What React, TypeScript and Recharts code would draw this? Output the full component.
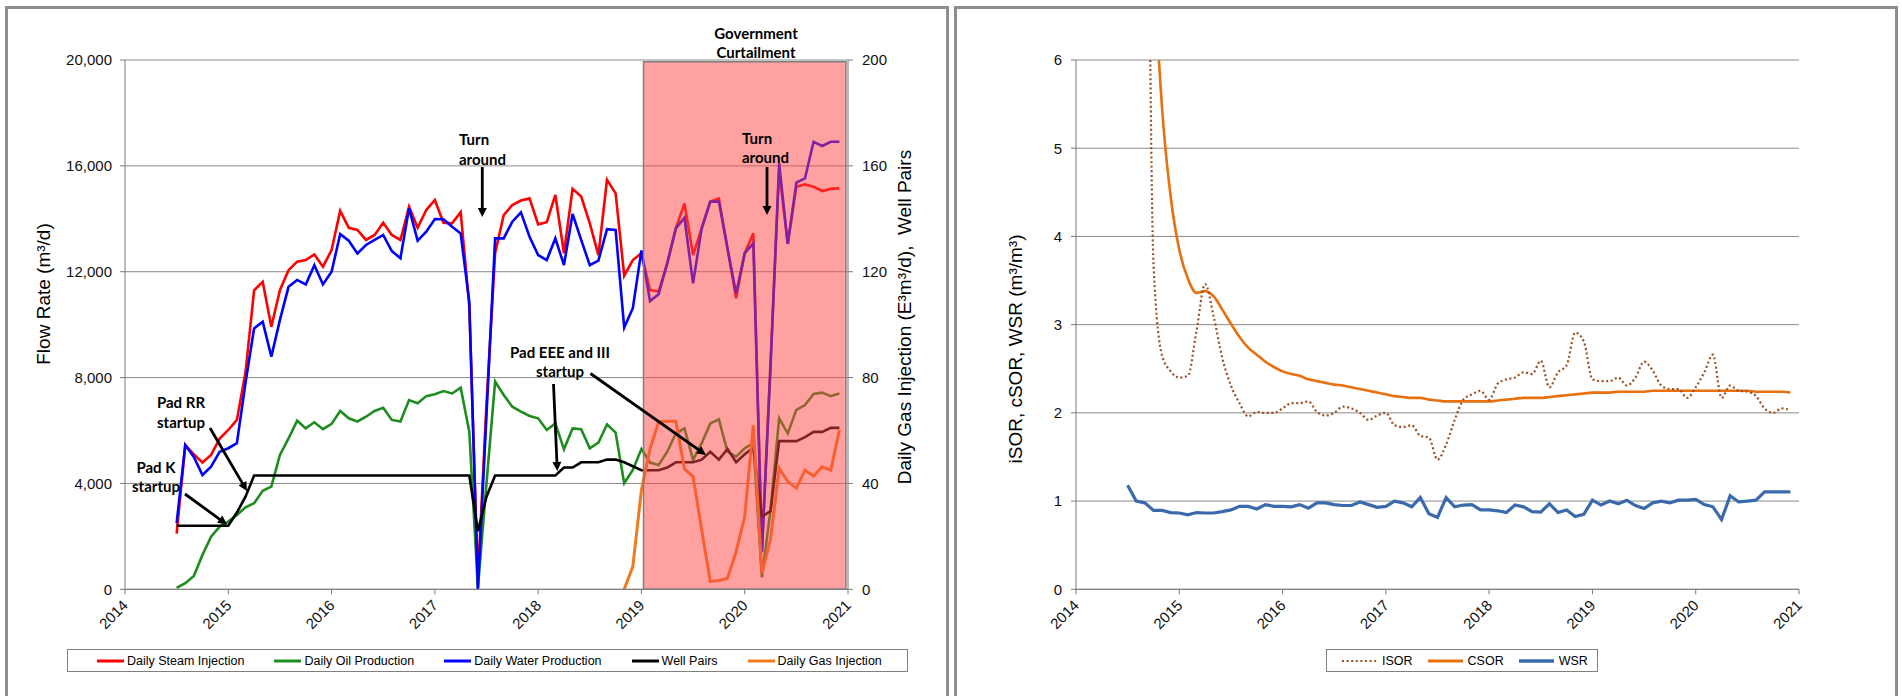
import React from 'react';
import { LineChart, Line, XAxis, YAxis, CartesianGrid, ReferenceArea, Legend } from 'recharts';

// ---------- categories (monthly, Jul 2014 .. Dec 2020) ----------
const START_YEAR = 2014;
const START_MONTH = 7;
const N_MONTHS = 78;
const MONTHS: number[] = Array.from({ length: N_MONTHS }, (_, i) => START_YEAR + (START_MONTH - 1 + i) / 12);

const YEAR_TICKS = [2014, 2015, 2016, 2017, 2018, 2019, 2020, 2021];
const FLOW_TICKS = [0, 4000, 8000, 12000, 16000, 20000];
const FLOW_MINOR_TICKS = Array.from({ length: 41 }, (_, i) => i * 500);
const GAS_TICKS = [0, 40, 80, 120, 160, 200];
const RATIO_TICKS = [0, 1, 2, 3, 4, 5, 6];
const RATIO_MINOR_TICKS = Array.from({ length: 31 }, (_, i) => i / 5);

// ---------- left chart series ----------
const STEAM = [2100, 5450, 5100, 4790, 5080, 5700, 6020, 6400, 8200, 11300, 11620, 9920, 11300, 12060, 12380, 12440, 12650, 12190, 12820, 14300, 13660, 13580, 13200, 13390, 13850, 13390, 13200, 14460, 13660, 14330, 14710, 13850, 13830, 14250, 10700, 400, 7000, 12700, 14140, 14520, 14690, 14770, 13790, 13870, 14900, 12700, 15130, 14840, 13830, 12630, 15470, 14960, 11850, 12440, 12700, 11310, 11250, 12320, 13640, 14580, 12630, 13640, 14650, 14770, 12880, 11000, 12700, 13450, 1500, 8600, 15800, 13050, 15210, 15300, 15210, 15050, 15130, 15150];
const OIL = [50, 230, 500, 1300, 1990, 2370, 2560, 2810, 3100, 3250, 3720, 3880, 5080, 5700, 6370, 6080, 6310, 6050, 6250, 6740, 6460, 6340, 6520, 6740, 6860, 6400, 6340, 7150, 7030, 7300, 7370, 7490, 7400, 7620, 5960, 50, 4000, 7850, 7340, 6900, 6710, 6550, 6460, 6020, 6270, 5290, 6080, 6050, 5330, 5540, 6230, 5920, 4010, 4510, 5300, 4790, 4700, 5200, 5890, 6080, 4890, 5520, 6270, 6420, 5200, 5010, 5330, 5520, 450, 3000, 6460, 5890, 6780, 6960, 7380, 7430, 7300, 7400];
const WATER = [2500, 5450, 5000, 4320, 4630, 5200, 5330, 5520, 7800, 9860, 10110, 8790, 10180, 11430, 11690, 11520, 12250, 11520, 12000, 13420, 13170, 12690, 13010, 13200, 13390, 12780, 12510, 14400, 13170, 13510, 13990, 13980, 13700, 13450, 10860, 0, 6600, 13260, 13260, 13890, 14240, 13320, 12630, 12440, 13260, 12250, 14180, 13200, 12250, 12420, 13610, 13580, 9890, 10620, 12800, 10890, 11150, 12320, 13640, 14040, 11560, 13640, 14650, 14650, 12880, 11180, 12700, 13070, 1400, 8400, 16100, 13050, 15370, 15530, 16910, 16750, 16910, 16910];
const WELL_PAIRS = [24, 24, 24, 24, 24, 24, 24, 29, 35, 43, 43, 43, 43, 43, 43, 43, 43, 43, 43, 43, 43, 43, 43, 43, 43, 43, 43, 43, 43, 43, 43, 43, 43, 43, 43, 22, 35, 43, 43, 43, 43, 43, 43, 43, 43, 46, 46, 48, 48, 48, 49, 49, 48, 46.5, 45, 45, 45, 46, 48, 48, 48, 49, 52, 49, 53, 48, 51, 53.5, 27.5, 29.5, 56, 56, 56, 57.5, 59.5, 59.5, 61, 61];
const GAS: (number | null)[] = [null, null, null, null, null, null, null, null, null, null, null, null, null, null, null, null, null, null, null, null, null, null, null, null, null, null, null, null, null, null, null, null, null, null, null, null, null, null, null, null, null, null, null, null, null, null, null, null, null, null, null, null, 0, 8.6, 37.5, 53, 63.3, 63.5, 63.5, 45.5, 42.6, 22.4, 3, 3.3, 4.2, 14.2, 27.5, 62, 6, 19, 45.7, 40.7, 38.2, 45, 42.8, 46.3, 45, 60.2];

// ---------- right chart series ----------
const ISOR = [40, 30, 14, 3.7, 2.65, 2.47, 2.4, 2.42, 2.93, 3.46, 3.09, 2.62, 2.31, 2.11, 1.96, 2.01, 2.0, 2.0, 2.05, 2.11, 2.11, 2.13, 2.01, 1.97, 2.0, 2.07, 2.05, 2.0, 1.92, 1.97, 2.0, 1.86, 1.84, 1.86, 1.74, 1.72, 1.47, 1.64, 1.92, 2.15, 2.21, 2.25, 2.15, 2.33, 2.38, 2.4, 2.46, 2.44, 2.59, 2.29, 2.46, 2.54, 2.91, 2.81, 2.38, 2.36, 2.36, 2.4, 2.31, 2.4, 2.58, 2.48, 2.31, 2.27, 2.27, 2.17, 2.29, 2.46, 2.66, 2.17, 2.31, 2.25, 2.24, 2.19, 2.05, 2.0, 2.05, 2.03];
const CSOR = [40, 16, 10, 7.2, 5.45, 4.45, 3.85, 3.52, 3.36, 3.38, 3.32, 3.17, 3.01, 2.86, 2.74, 2.66, 2.58, 2.52, 2.47, 2.44, 2.42, 2.38, 2.36, 2.34, 2.32, 2.31, 2.29, 2.27, 2.25, 2.23, 2.21, 2.19, 2.18, 2.17, 2.17, 2.15, 2.14, 2.13, 2.13, 2.13, 2.13, 2.13, 2.13, 2.14, 2.15, 2.16, 2.17, 2.17, 2.17, 2.18, 2.19, 2.2, 2.21, 2.22, 2.23, 2.23, 2.23, 2.24, 2.24, 2.24, 2.24, 2.25, 2.25, 2.25, 2.25, 2.25, 2.25, 2.25, 2.25, 2.25, 2.25, 2.25, 2.25, 2.24, 2.24, 2.24, 2.24, 2.23];
const WSR = [1.18, 1.0, 0.98, 0.895, 0.895, 0.87, 0.865, 0.845, 0.87, 0.865, 0.865, 0.88, 0.9, 0.94, 0.94, 0.91, 0.96, 0.94, 0.94, 0.935, 0.96, 0.92, 0.98, 0.98, 0.96, 0.95, 0.95, 0.99, 0.96, 0.93, 0.94, 1.0, 0.98, 0.935, 1.04, 0.857, 0.815, 1.04, 0.935, 0.955, 0.96, 0.9, 0.9, 0.89, 0.87, 0.955, 0.935, 0.88, 0.875, 0.97, 0.87, 0.9, 0.825, 0.85, 1.01, 0.955, 1.0, 0.97, 1.01, 0.95, 0.915, 0.98, 1.0, 0.98, 1.01, 1.01, 1.02, 0.96, 0.935, 0.79, 1.06, 0.99, 1.0, 1.01, 1.105, 1.105, 1.105, 1.105];

const CURTAIL_START = 2019.02;
const CURTAIL_END = 2020.98;
const CURTAIL_TOP = 19930;

const LEFT_LEGEND = [
  { name: 'Daily Steam Injection', color: '#ff0000' },
  { name: 'Daily Oil Production', color: '#1e8c1e' },
  { name: 'Daily Water Production', color: '#0000ff' },
  { name: 'Well Pairs', color: '#000000' },
  { name: 'Daily Gas Injection', color: '#f07a1e' },
];
const RIGHT_LEGEND = [
  { name: 'ISOR', color: '#9c4f22', dash: '2 2.6', width: 2.2 },
  { name: 'CSOR', color: '#e8700e', width: 3 },
  { name: 'WSR', color: '#3a6aab', width: 3.5 },
];

const leftData = MONTHS.map((t, i) => ({ t, steam: STEAM[i], oil: OIL[i], water: WATER[i], wells: WELL_PAIRS[i], gas: GAS[i] }));
const rightData = MONTHS.map((t, i) => ({ t, isor: ISOR[i], csor: CSOR[i], wsr: WSR[i] }));

const FONT = '"Liberation Sans", Arial, sans-serif';
const NOTE_FONT = 'Lato, "Open Sans", sans-serif';
const AXIS_C = '#7a7a7a';
const GRID_C = '#8a8a8a';

const YearTick = (props: any) => {
  const { x, y, payload } = props;
  const px = x + 4;
  const py = y + 10;
  return (
    <text x={px} y={py} textAnchor="end" transform={`rotate(-45 ${px} ${py})`} fontSize={15} fill="#111" fontFamily={FONT}>
      {payload.value}
    </text>
  );
};

type LItem = { name: string; color: string; dash?: string; width?: number };
const LegendBox = ({ items, lineLen, gap, itemGap, padL, padR }: { items: LItem[]; lineLen: number; gap: number; itemGap: number; padL: number; padR: number }) => (
  <div style={{ display: 'flex', alignItems: 'center', height: 21, border: '1px solid #808080', background: '#fff', paddingLeft: padL, paddingRight: padR, fontFamily: FONT, fontSize: 12.5, color: '#000', whiteSpace: 'nowrap' }}>
    {items.map((it, k) => (
      <div key={k} style={{ display: 'flex', alignItems: 'center', marginLeft: k ? itemGap : 0 }}>
        <svg width={lineLen} height={8} style={{ display: 'block' }}>
          <line x1={0} x2={lineLen} y1={4} y2={4} stroke={it.color} strokeWidth={it.width ?? 3} strokeDasharray={it.dash} />
        </svg>
        <span style={{ marginLeft: gap }}>{it.name}</span>
      </div>
    ))}
  </div>
);

const Arrow = ({ x1, y1, x2, y2 }: { x1: number; y1: number; x2: number; y2: number }) => {
  const dx = x2 - x1;
  const dy = y2 - y1;
  const L = Math.hypot(dx, dy);
  const ux = dx / L;
  const uy = dy / L;
  const head = 9;
  const hw = 4.5;
  const bx = x2 - ux * head;
  const by = y2 - uy * head;
  const px = -uy;
  const py = ux;
  return (
    <g>
      <line x1={x1} y1={y1} x2={bx + ux * 1} y2={by + uy * 1} stroke="#000" strokeWidth={2.8} />
      <polygon points={`${x2},${y2} ${bx + px * hw},${by + py * hw} ${bx - px * hw},${by - py * hw}`} fill="#000" />
    </g>
  );
};

const Note = ({ x, y, lines, anchor = 'middle' }: { x: number; y: number; lines: string[]; anchor?: 'middle' | 'start' }) => (
  <text fontFamily={NOTE_FONT} fontWeight={700} fontSize={15} fill="#000" textAnchor={anchor}>
    {lines.map((l, k) => (
      <tspan key={k} x={x} y={y + k * 19.5}>{l}</tspan>
    ))}
  </text>
);

const fmt = (v: number) => v.toLocaleString('en-US');

export default function App() {
  return (
    <div style={{ position: 'absolute', left: 0, top: 0, width: 1902, height: 696, overflow: 'hidden', background: '#fff' }}>
      {/* panel frames */}
      <div style={{ position: 'absolute', left: 5, top: 6, width: 944, height: 720, border: '3px solid #8e8e8e', boxSizing: 'border-box' }} />
      <div style={{ position: 'absolute', left: 954, top: 6, width: 944, height: 720, border: '3px solid #8e8e8e', boxSizing: 'border-box' }} />

      {/* left chart */}
      <div style={{ position: 'absolute', left: 0, top: 0 }}>
        <LineChart width={950} height={696} data={leftData} margin={{ top: 60, right: 42, bottom: 56.7, left: 65 }}>
          <CartesianGrid yAxisId="left" vertical={false} stroke={GRID_C} strokeWidth={1} />
          <XAxis dataKey="t" type="number" domain={[2014, 2021]} ticks={YEAR_TICKS} interval={0} allowDataOverflow height={50} tick={<YearTick />} tickSize={5} tickMargin={2} axisLine={{ stroke: AXIS_C }} tickLine={{ stroke: AXIS_C }} />
          <YAxis yAxisId="left" domain={[0, 20000]} ticks={FLOW_TICKS} interval={0} allowDataOverflow width={60} tickFormatter={fmt} tick={{ fontSize: 15, fill: '#111', fontFamily: FONT }} tickSize={5} tickMargin={8} axisLine={{ stroke: AXIS_C }} tickLine={{ stroke: AXIS_C }} />
          <YAxis yAxisId="leftMinor" domain={[0, 20000]} ticks={FLOW_MINOR_TICKS} interval={0} allowDataOverflow width={0} tick={false} tickSize={4} axisLine={false} tickLine={{ stroke: AXIS_C }} />
          <YAxis yAxisId="right" orientation="right" domain={[0, 200]} ticks={GAS_TICKS} interval={0} allowDataOverflow width={60} tick={{ fontSize: 15, fill: '#111', fontFamily: FONT }} tickSize={5} tickMargin={9} axisLine={{ stroke: AXIS_C }} tickLine={{ stroke: AXIS_C }} />
          <Line yAxisId="left" dataKey="steam" type="linear" stroke="#ff0000" strokeWidth={2.6} dot={false} isAnimationActive={false} />
          <Line yAxisId="left" dataKey="oil" type="linear" stroke="#1e8c1e" strokeWidth={2.6} dot={false} isAnimationActive={false} />
          <Line yAxisId="left" dataKey="water" type="linear" stroke="#0000ff" strokeWidth={2.6} dot={false} isAnimationActive={false} />
          <Line yAxisId="right" dataKey="wells" type="linear" stroke="#000000" strokeWidth={2.6} dot={false} isAnimationActive={false} />
          <Line yAxisId="right" dataKey="gas" type="linear" stroke="#f07a1e" strokeWidth={3} dot={false} isAnimationActive={false} />
          <ReferenceArea yAxisId="left" x1={CURTAIL_START} x2={CURTAIL_END} y1={0} y2={CURTAIL_TOP} fill="#ff4444" fillOpacity={0.5} stroke="#7f7f7f" strokeWidth={1.5} zIndex={450} ifOverflow="hidden" />
          <Legend layout="horizontal" verticalAlign="middle" align="center" wrapperStyle={{ left: 67, top: 649, width: 'auto', height: 'auto' }}
            content={() => <LegendBox items={LEFT_LEGEND} lineLen={27} gap={3} itemGap={30} padL={29} padR={25} />} />
        </LineChart>
      </div>

      {/* right chart */}
      <div style={{ position: 'absolute', left: 950, top: 0 }}>
        <LineChart width={952} height={696} data={rightData} margin={{ top: 60, right: 103, bottom: 56.7, left: 66 }}>
          <CartesianGrid yAxisId="ratio" vertical={false} stroke={GRID_C} strokeWidth={1} />
          <XAxis dataKey="t" type="number" domain={[2014, 2021]} ticks={YEAR_TICKS} interval={0} allowDataOverflow height={50} tick={<YearTick />} tickSize={5} tickMargin={2} axisLine={{ stroke: AXIS_C }} tickLine={{ stroke: AXIS_C }} />
          <YAxis yAxisId="ratio" domain={[0, 6]} ticks={RATIO_TICKS} interval={0} allowDataOverflow width={60} tick={{ fontSize: 15, fill: '#111', fontFamily: FONT }} tickSize={5} tickMargin={9} axisLine={{ stroke: AXIS_C }} tickLine={{ stroke: AXIS_C }} />
          <YAxis yAxisId="ratioMinor" domain={[0, 6]} ticks={RATIO_MINOR_TICKS} interval={0} allowDataOverflow width={0} tick={false} tickSize={4} axisLine={false} tickLine={{ stroke: AXIS_C }} />
          <YAxis yAxisId="frame" orientation="right" domain={[0, 6]} ticks={RATIO_TICKS} width={0} tick={false} tickLine={false} axisLine={{ stroke: '#999' }} />
          <Line yAxisId="ratio" dataKey="csor" type="monotone" stroke="#e8700e" strokeWidth={2.6} dot={false} isAnimationActive={false} />
          <Line yAxisId="ratio" dataKey="wsr" type="linear" stroke="#3a6aab" strokeWidth={3.2} dot={false} isAnimationActive={false} />
          <Line yAxisId="ratio" dataKey="isor" type="monotone" stroke="#9c4f22" strokeWidth={2.2} strokeDasharray="2 2.6" dot={false} isAnimationActive={false} />
          <Legend layout="horizontal" verticalAlign="middle" align="center" wrapperStyle={{ left: 376, top: 649, width: 'auto', height: 'auto' }}
            content={() => <LegendBox items={RIGHT_LEGEND} lineLen={35} gap={5} itemGap={15} padL={15} padR={9} />} />
        </LineChart>
      </div>

      {/* titles & annotations */}
      <svg width={1902} height={696} style={{ position: 'absolute', left: 0, top: 0, pointerEvents: 'none' }}>
        <text transform="translate(43 294) rotate(-90)" textAnchor="middle" dy="0.35em" fontFamily={FONT} fontSize={19} fill="#000">Flow Rate (m³/d)</text>
        <text transform="translate(904 317) rotate(-90)" textAnchor="middle" dy="0.35em" fontFamily={FONT} fontSize={19} fill="#000" style={{ whiteSpace: 'pre' }}>{'Daily Gas Injection (E³m³/d),  Well Pairs'}</text>
        <text transform="translate(1015 349) rotate(-90)" textAnchor="middle" dy="0.35em" fontFamily={FONT} fontSize={19} fill="#000">iSOR, cSOR, WSR (m³/m³)</text>

        <Note x={756} y={38.5} lines={['Government', 'Curtailment']} />
        <Note x={459} y={145} lines={['Turn', 'around']} anchor="start" />
        <Note x={742} y={143.5} lines={['Turn', 'around']} anchor="start" />
        <Note x={181} y={408} lines={['Pad RR', 'startup']} />
        <Note x={156} y={472.5} lines={['Pad K', 'startup']} />
        <Note x={560} y={357.5} lines={['Pad EEE and III', 'startup']} />

        <Arrow x1={482.3} y1={167} x2={482.3} y2={217} />
        <Arrow x1={767} y1={167} x2={767} y2={215} />
        <Arrow x1={210} y1={428} x2={247} y2={491} />
        <Arrow x1={185} y1={494} x2={227} y2={524.5} />
        <Arrow x1={553.5} y1={384} x2={557.3} y2={471} />
        <Arrow x1={590.5} y1={373.5} x2={706} y2={455} />
      </svg>
    </div>
  );
}
